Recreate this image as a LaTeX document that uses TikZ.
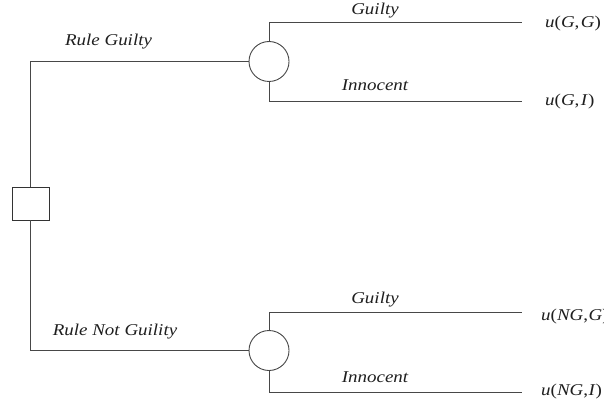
\documentclass[tikz,border=0pt]{standalone}
\usepackage{fontspec}
\setmainfont{Liberation Serif}[FakeStretch=1.15]
\begin{document}
\begin{tikzpicture}[x=1pt,y=-1pt,
  edge/.style={draw=black!72,line width=0.9pt},
  decision/.style={rectangle,draw=black!80,line width=0.9pt,minimum width=37pt,minimum height=33pt,inner sep=0pt},
  chance/.style={circle,draw=black!72,line width=0.9pt,minimum size=40pt,inner sep=0pt},
  lab/.style={font=\fontsize{16.5}{18}\selectfont\itshape,text=black!88,inner sep=0pt},
  pay/.style={font=\fontsize{16.5}{18}\selectfont,text=black!88,inner sep=0pt,anchor=west}]
\useasboundingbox (0,0) rectangle (604,406);
\fill[white] (0,0) rectangle (604,406);

% decision and chance nodes
\node[decision] (dec) at (30.5,203.5) {};
\node[chance] (c1) at (269,61.5) {};
\node[chance] (c2) at (269,350.5) {};

% end points of the outcome branches
\coordinate (g1) at (522,22);
\coordinate (i1) at (522,101);
\coordinate (g2) at (522,312);
\coordinate (i2) at (522,392);

% decision branches
\draw[edge] (dec.north) |- (c1.west);
\draw[edge] (dec.south) |- (c2.west);

% outcome branches
\draw[edge] (c1.north) |- (g1);
\draw[edge] (c1.south) |- (i1);
\draw[edge] (c2.north) |- (g2);
\draw[edge] (c2.south) |- (i2);

% branch labels
\node[lab] (lrg) at (108.5,42) {Rule Guilty};
\node[lab] (lrn) at (115,332) {Rule Not Guility};
\node[lab] (lg1) at (375,11) {Guilty};
\node[lab] (li1) at (375,85) {Innocent};
\node[lab] (lg2) at (375,300) {Guilty};
\node[lab] (li2) at (375,377) {Innocent};

% payoffs
\node[pay] (pgg) at (545,24) {\textit{u}(\textit{G},\kern1.5pt\textit{G})};
\node[pay] (pgi) at (545,102) {\textit{u}(\textit{G},\kern1.5pt\textit{I})};
\node[pay] (png) at (541,317) {\textit{u}(\textit{NG},\kern0.5pt\textit{G})};
\node[pay] (pni) at (541,392) {\textit{u}(\textit{NG},\kern0.5pt\textit{I})};
\end{tikzpicture}
\end{document}
